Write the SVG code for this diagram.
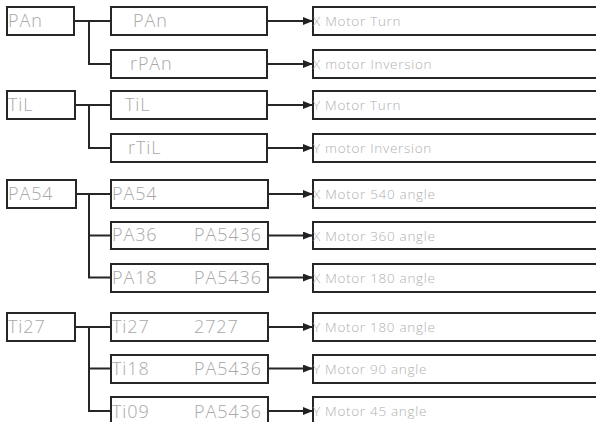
<svg xmlns="http://www.w3.org/2000/svg" width="596" height="422" viewBox="0 0 596 422">
<defs>
<marker id="ah" markerWidth="10" markerHeight="8" refX="10" refY="4" orient="auto" markerUnits="userSpaceOnUse">
<path d="M0,0 L10,4 L0,8 Z" fill="#222"/>
</marker>
<style>
.b{fill:#fff;stroke:#262626;stroke-width:2}
.t{font-family:"Open Sans","Liberation Sans",sans-serif;font-weight:300;font-size:18px;letter-spacing:0.9px;fill:#a8a8a8}
.r{font-family:"Open Sans","Liberation Sans",sans-serif;font-weight:300;font-size:13.5px;letter-spacing:0.7px;fill:#b0b0b0}
.c{fill:none;stroke:#262626;stroke-width:2}
.a{fill:none;stroke:#262626;stroke-width:2;marker-end:url(#ah)}
</style>
</defs>
<rect width="596" height="422" fill="#fff"/>
<g id="connectors">
<path class="c" d="M75,21 H89 M89,21 V64 H111 M89,21 H111"/>
<path class="c" d="M75,105 H89 M89,105 V148 H111 M89,105 H111"/>
<path class="c" d="M76,194 H89 M89,194 V277.5 H111 M89,194 H111 M89,235.5 H111"/>
<path class="c" d="M75,327 H89 M89,327 V411 H111 M89,327 H111 M89,368.5 H111"/>
<path class="a" d="M268,21 H313"/>
<path class="a" d="M268,64 H313"/>
<path class="a" d="M268,105 H313"/>
<path class="a" d="M268,148 H313"/>
<path class="a" d="M268,194 H313"/>
<path class="a" d="M268,235.5 H313"/>
<path class="a" d="M268,277.5 H313"/>
<path class="a" d="M268,327 H313"/>
<path class="a" d="M268,368.5 H313"/>
<path class="a" d="M268,411 H313"/>
</g>
<g id="n-PAn"><rect class="b" x="7" y="7" width="67" height="28"/><text class="t" x="8" y="27">PAn</text></g>
<g id="n-PAn2"><rect class="b" x="111" y="7" width="156" height="28"/><text class="t" x="133" y="27">PAn</text></g>
<g id="n-rPAn"><rect class="b" x="111" y="50" width="156" height="28"/><text class="t" x="130" y="70">rPAn</text></g>
<g id="n-xturn"><rect class="b" x="313" y="7" width="300" height="28"/><text class="r" x="313" y="26">X Motor Turn</text></g>
<g id="n-xinv"><rect class="b" x="313" y="50" width="300" height="28"/><text class="r" x="313" y="69">X motor Inversion</text></g>

<g id="n-TiL"><rect class="b" x="7" y="91" width="68" height="28"/><text class="t" x="8" y="111">TiL</text></g>
<g id="n-TiL2"><rect class="b" x="111" y="91" width="156" height="28"/><text class="t" x="125" y="111">TiL</text></g>
<g id="n-rTiL"><rect class="b" x="111" y="134" width="156" height="28"/><text class="t" x="128" y="154">rTiL</text></g>
<g id="n-yturn"><rect class="b" x="313" y="91" width="300" height="28"/><text class="r" x="313" y="110">Y Motor Turn</text></g>
<g id="n-yinv"><rect class="b" x="313" y="134" width="300" height="28"/><text class="r" x="313" y="153">Y motor Inversion</text></g>

<g id="n-PA54"><rect class="b" x="7" y="180" width="69" height="28"/><text class="t" x="8" y="200">PA54</text></g>
<g id="n-PA54b"><rect class="b" x="111" y="180" width="157" height="28"/><text class="t" x="112" y="200">PA54</text></g>
<g id="n-PA36"><rect class="b" x="111" y="222" width="157" height="27"/><text class="t" x="112" y="241">PA36</text><text class="t" x="194" y="241">PA5436</text></g>
<g id="n-PA18"><rect class="b" x="111" y="264" width="157" height="28"/><text class="t" x="112" y="284">PA18</text><text class="t" x="194" y="284">PA5436</text></g>
<g id="n-x540"><rect class="b" x="313" y="180" width="300" height="28"/><text class="r" x="313" y="199">X Motor 540 angle</text></g>
<g id="n-x360"><rect class="b" x="313" y="222" width="300" height="27"/><text class="r" x="313" y="241">X Motor 360 angle</text></g>
<g id="n-x180"><rect class="b" x="313" y="264" width="300" height="28"/><text class="r" x="313" y="283">X Motor 180 angle</text></g>

<g id="n-Ti27"><rect class="b" x="7" y="313" width="68" height="28"/><text class="t" x="8" y="333">Ti27</text></g>
<g id="n-Ti27b"><rect class="b" x="111" y="313" width="157" height="28"/><text class="t" x="112" y="333">Ti27</text><text class="t" x="194" y="333">2727</text></g>
<g id="n-Ti18"><rect class="b" x="111" y="355" width="157" height="28"/><text class="t" x="112" y="375">Ti18</text><text class="t" x="194" y="375">PA5436</text></g>
<g id="n-Ti09"><rect class="b" x="111" y="397" width="157" height="30"/><text class="t" x="112" y="418">Ti09</text><text class="t" x="194" y="418">PA5436</text></g>
<g id="n-y180"><rect class="b" x="313" y="313" width="300" height="28"/><text class="r" x="313" y="332">Y Motor 180 angle</text></g>
<g id="n-y90"><rect class="b" x="313" y="355" width="300" height="28"/><text class="r" x="313" y="374">Y Motor 90 angle</text></g>
<g id="n-y45"><rect class="b" x="313" y="397" width="300" height="30"/><text class="r" x="313" y="416">Y Motor 45 angle</text></g>
</svg>
